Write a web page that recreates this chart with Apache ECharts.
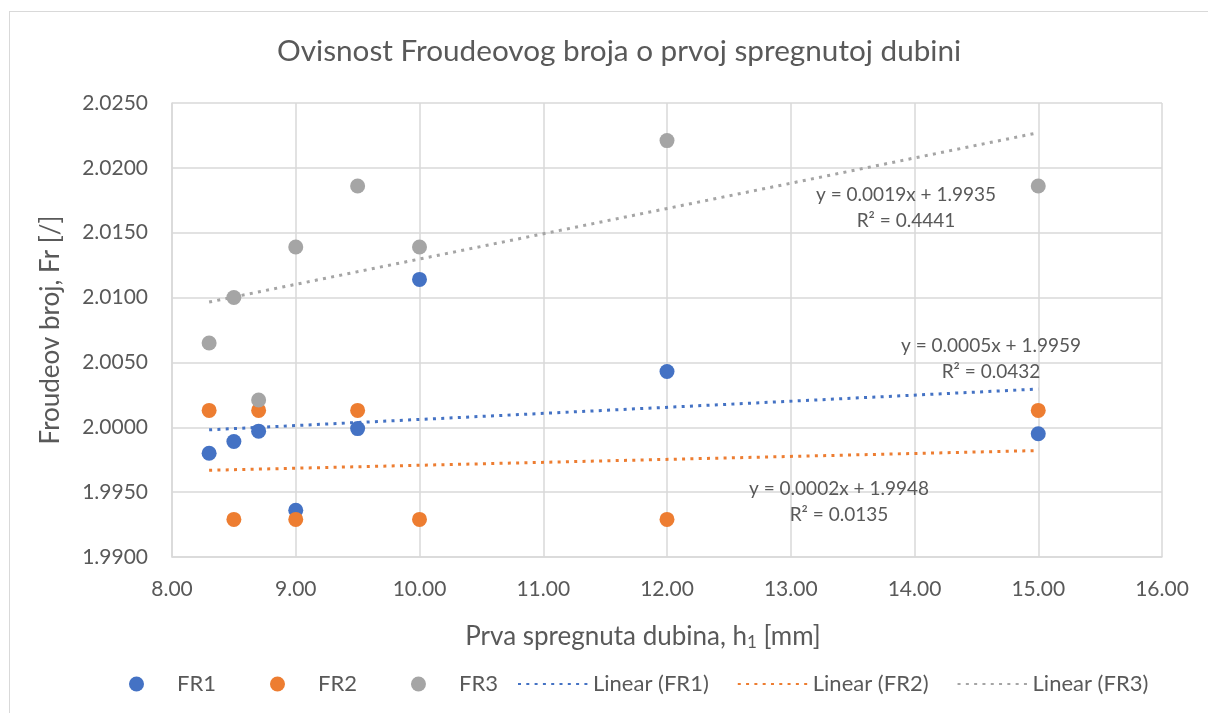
<!DOCTYPE html>
<html>
<head>
<meta charset="utf-8">
<title>Ovisnost Froudeovog broja</title>
<script src="https://cdn.jsdelivr.net/npm/echarts@6/dist/echarts.min.js"></script>
<style>
  html, body { margin: 0; padding: 0; background: #fff; }
  #frame {
    position: absolute; left: 9px; top: 11px;
    width: 1210px; height: 720px;
    border: 1.5px solid #d9d9d9;
    box-sizing: border-box;
  }
  #chart { position: absolute; left: 0; top: 0; width: 1208px; height: 713px; }
</style>
</head>
<body>
<div id="frame"></div>
<div id="chart"></div>
<script>
// prva spregnuta dubina h1 [mm]
const depths = [8.3, 8.5, 8.7, 9.0, 9.5, 10.0, 12.0, 15.0]
// Froudeov broj za tri mjerenja
const fr1 = [1.9980, 1.9989, 1.9997, 1.9936, 1.9999, 2.0114, 2.0043, 1.9995]
const fr2 = [2.0013, 1.9929, 2.0013, 1.9929, 2.0013, 1.9929, 1.9929, 2.0013]
const fr3 = [2.0065, 2.0100, 2.0021, 2.0139, 2.0186, 2.0139, 2.0221, 2.0186]

const seriesNames = ['FR1', 'FR2', 'FR3']
const trendNames = ['Linear (FR1)', 'Linear (FR2)', 'Linear (FR3)']
const trendLabels = [
  ['y = 0.0005x + 1.9959', 'R² = 0.0432'],
  ['y = 0.0002x + 1.9948', 'R² = 0.0135'],
  ['y = 0.0019x + 1.9935', 'R² = 0.4441']
]
const colors = ['#4472c4', '#ed7d31', '#a5a5a5']

const textColor = '#595959'
const fontFamily = 'Lato, "Open Sans", sans-serif'

// linearni trend (najmanji kvadrati) iz podataka
const linearFit = (xs, ys) => {
  const n = xs.length
  const mx = xs.reduce((a, b) => a + b, 0) / n
  const my = ys.reduce((a, b) => a + b, 0) / n
  let sxy = 0, sxx = 0
  xs.forEach((x, i) => {
    sxy += (x - mx) * (ys[i] - my)
    sxx += (x - mx) * (x - mx)
  })
  const k = sxy / sxx
  const b = my - k * mx
  const x0 = Math.min(...xs), x1 = Math.max(...xs)
  return [[x0, k * x0 + b], [x1, k * x1 + b]]
}

const allData = [fr1, fr2, fr3]

const scatterSeries = allData.map((ys, i) => ({
  name: seriesNames[i],
  type: 'scatter',
  symbol: 'circle',
  symbolSize: 15,
  itemStyle: { color: colors[i], opacity: 1 },
  z: 3,
  data: depths.map((x, j) => [x, ys[j]])
}))

const trendSeries = allData.map((ys, i) => ({
  name: trendNames[i],
  type: 'line',
  symbol: 'none',
  showSymbol: false,
  silent: true,
  z: 2,
  lineStyle: { color: colors[i], width: 3, type: [3, 5.3], cap: 'butt' },
  itemStyle: { color: colors[i] },
  data: linearFit(depths, ys)
}))

const chart = echarts.init(document.getElementById('chart'))

const labelStyle = {
  fill: textColor,
  font: '19px ' + fontFamily,
  align: 'center',
  lineHeight: 26
}

// oznake jednadžbi trenda (centrirane)
const labelCenters = [[991, 333], [839, 476], [906, 182]]

const option = {
  animation: false,
  textStyle: { fontFamily: fontFamily, color: textColor },
  title: {
    text: 'Ovisnost Froudeovog broja o prvoj spregnutoj dubini',
    left: 272,
    top: 31,
    textStyle: { fontFamily: fontFamily, fontSize: 29.7, fontWeight: 'normal', color: textColor }
  },
  grid: { left: 172, right: 46, top: 103, bottom: 156 },
  legend: [
    {
      data: seriesNames,
      left: 124,
      top: 668,
      itemWidth: 15,
      itemHeight: 15,
      itemGap: 54,
      icon: 'circle',
      textStyle: { fontSize: 22, color: textColor, padding: [0, 0, 0, 28], width: 36 }
    },
    {
      data: trendNames,
      left: 512,
      top: 668,
      itemWidth: 70,
      itemHeight: 15,
      itemGap: 28,
      itemStyle: { color: 'rgba(0,0,0,0)', borderWidth: 0, opacity: 0 },
      textStyle: { fontSize: 22, color: textColor, width: 115 }
    }
  ],
  xAxis: {
    type: 'value',
    min: 8,
    max: 16,
    interval: 1,
    name: 'Prva spregnuta dubina, h{sub|1} [mm]',
    nameLocation: 'middle',
    nameGap: 65,
    nameTextStyle: {
      fontSize: 26,
      color: textColor,
      padding: [0, 48, 0, 0],
      rich: { sub: { fontSize: 17, verticalAlign: 'bottom', padding: [12, 0, 0, 0], color: textColor } }
    },
    axisLine: { lineStyle: { color: '#d9d9d9', width: 1.5 } },
    axisTick: { show: false },
    splitLine: { lineStyle: { color: '#d9d9d9', width: 1.5 } },
    axisLabel: {
      fontSize: 21,
      color: textColor,
      margin: 22,
      formatter: v => v.toFixed(2)
    }
  },
  yAxis: {
    type: 'value',
    min: 1.99,
    max: 2.025,
    interval: 0.005,
    name: 'Froudeov broj, Fr [/]',
    nameLocation: 'middle',
    nameGap: 108,
    nameTextStyle: { fontSize: 26, color: textColor },
    axisLine: { show: true, lineStyle: { color: '#d9d9d9', width: 1.5 } },
    axisTick: { show: false },
    splitLine: { lineStyle: { color: '#d9d9d9', width: 1.5 } },
    axisLabel: {
      fontSize: 21,
      color: textColor,
      margin: 24,
      formatter: v => v.toFixed(4)
    }
  },
  graphic: trendLabels.map((lines, i) => ({
    type: 'text',
    x: labelCenters[i][0],
    y: labelCenters[i][1],
    z: 10,
    style: Object.assign({ text: lines.join('\n') }, labelStyle)
  })),
  series: scatterSeries.concat(trendSeries)
}

chart.setOption(option)
</script>
</body>
</html>
